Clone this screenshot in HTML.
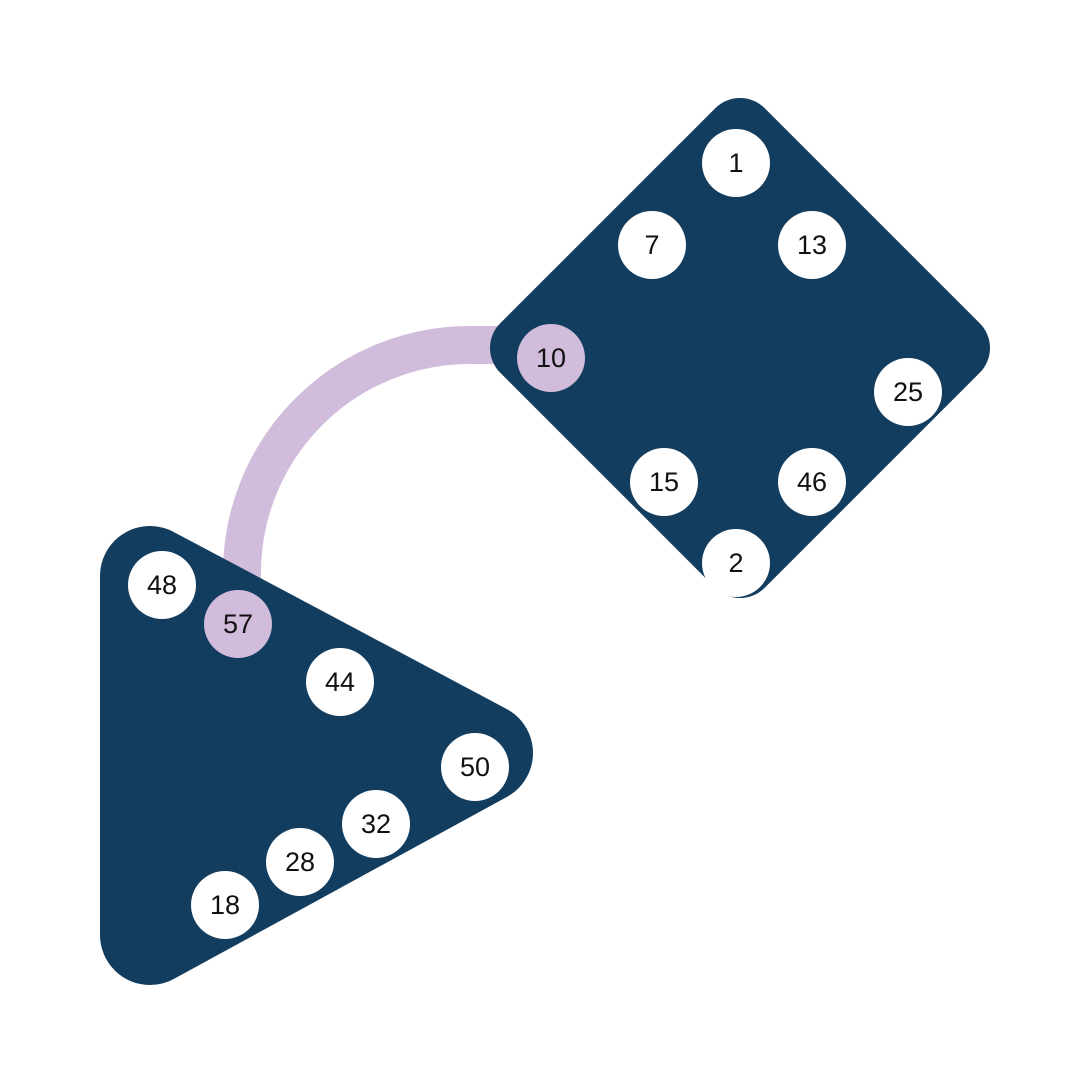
<!DOCTYPE html>
<html><head><style>
html,body{margin:0;padding:0;background:#fff;}
svg{display:block;}
text{font-family:"Liberation Sans",sans-serif;font-size:27px;fill:#111;text-anchor:middle;dominant-baseline:central;}
</style></head><body>
<svg width="1080" height="1080" viewBox="0 0 1080 1080">
<path d="M242 600 L242 575 A228 228 0 0 1 470 345 L500 345" fill="none" stroke="#d2bcdc" stroke-width="38"/>
<polygon points="740,133 955,348 740,563 525,348" fill="#123d5f" stroke="#123d5f" stroke-width="70" stroke-linejoin="round"/>
<polygon points="150,576 150,935 483,753" fill="#123d5f" stroke="#123d5f" stroke-width="100" stroke-linejoin="round"/>
<g fill="#fff">
<circle cx="736" cy="163" r="34"/><circle cx="652" cy="245" r="34"/><circle cx="812" cy="245" r="34"/>
<circle cx="908" cy="392" r="34"/><circle cx="664" cy="482" r="34"/><circle cx="812" cy="482" r="34"/>
<circle cx="736" cy="563" r="34"/>
<circle cx="162" cy="585" r="34"/><circle cx="340" cy="682" r="34"/><circle cx="475" cy="767" r="34"/>
<circle cx="376" cy="824" r="34"/><circle cx="300" cy="862" r="34"/><circle cx="225" cy="905" r="34"/>
</g>
<circle cx="551" cy="358" r="34" fill="#d2bcdc"/>
<circle cx="238" cy="624" r="34" fill="#d2bcdc"/>
<text x="736" y="163">1</text><text x="652" y="245">7</text><text x="812" y="245">13</text>
<text x="551" y="358">10</text><text x="908" y="392">25</text><text x="664" y="482">15</text>
<text x="812" y="482">46</text><text x="736" y="563">2</text>
<text x="162" y="585">48</text><text x="238" y="624">57</text><text x="340" y="682">44</text>
<text x="475" y="767">50</text><text x="376" y="824">32</text><text x="300" y="862">28</text>
<text x="225" y="905">18</text>
</svg>
</body></html>
